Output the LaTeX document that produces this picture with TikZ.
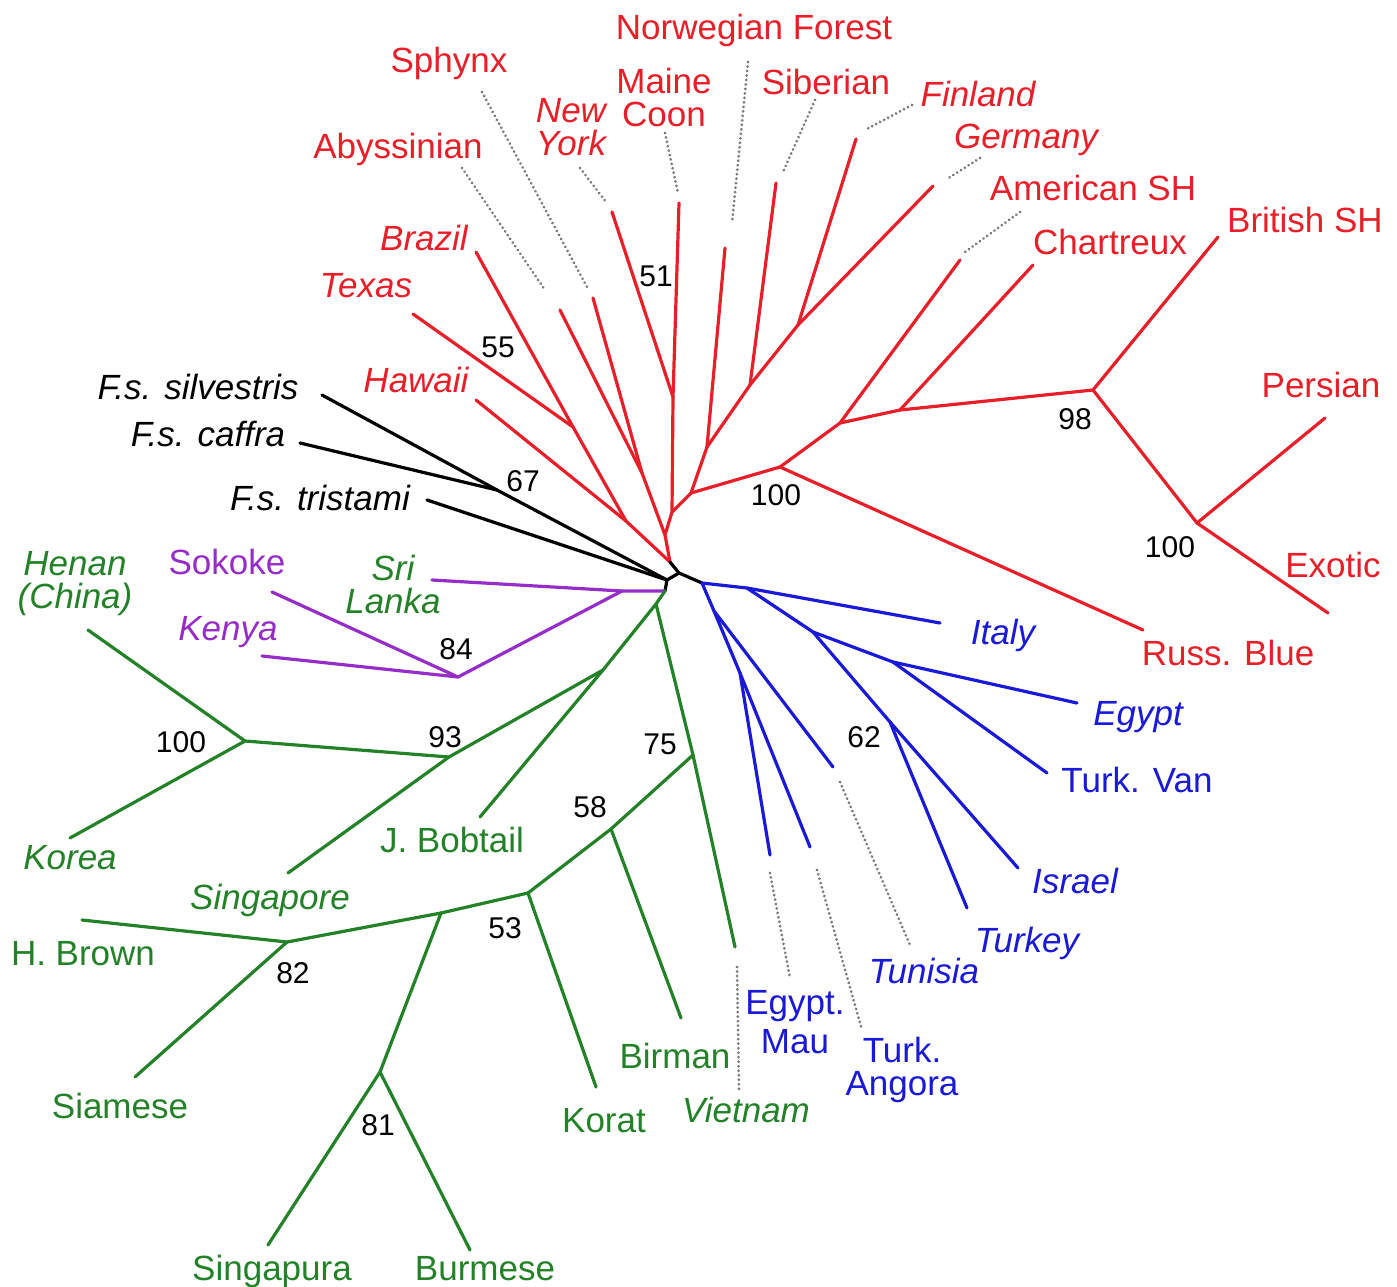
\documentclass[tikz,border=0pt]{standalone}
\usepackage{fontspec}
\setmainfont{Liberation Sans}
\definecolor{tred}{RGB}{232,30,40}
\definecolor{tblue}{RGB}{25,25,215}
\definecolor{tgreen}{RGB}{35,130,40}
\definecolor{tpurple}{RGB}{150,45,200}
\definecolor{tgray}{RGB}{120,120,120}
\newcommand\lblfont{\fontsize{35}{33}\selectfont}
\newcommand\bsfont{\fontsize{30}{30}\selectfont}
\tikzset{
  br/.style={line width=3.2pt, line cap=round, line join=round},
  dotline/.style={tgray, line width=3pt, line cap=round, dash pattern=on 0.01pt off 4.5pt},
  lab/.style={font=\lblfont, inner sep=0pt, anchor=base},
  ilab/.style={font=\lblfont\itshape, inner sep=0pt, anchor=base},
  mlab/.style={font=\lblfont, inner sep=0pt, anchor=center, align=center},
  milab/.style={font=\lblfont\itshape, inner sep=0pt, anchor=center, align=center},
  bs/.style={font=\bsfont, inner sep=0pt, anchor=base, text=black}
}
\begin{document}
\begin{tikzpicture}[x=1pt,y=-1pt]
\useasboundingbox (0,0) rectangle (1397,1287);
\fill[white] (0,0) rectangle (1397,1287);
% ---------- coordinates ----------
% centre
\coordinate (rootR) at (670,562);
\coordinate (J1) at (679,573);
\coordinate (J2) at (667,580);
\coordinate (J3) at (665,591);
\coordinate (blueB) at (702,583);
% black
\coordinate (N67) at (497,490);
\coordinate (SilE) at (322,395);
\coordinate (CafE) at (300,443);
\coordinate (TriE) at (427,500);
% red left
\coordinate (HawJ) at (626,521);
\coordinate (HawE) at (476,400);
\coordinate (N55) at (573,427);
\coordinate (TexE) at (413,314);
\coordinate (BraE) at (476,252);
\coordinate (AbJ) at (642,473);
\coordinate (AbE) at (560,310);
\coordinate (SphE) at (593,298);
\coordinate (MidJ) at (665,535);
\coordinate (NYJ) at (672,512);
\coordinate (N51) at (673,397);
\coordinate (NYE) at (612,212);
\coordinate (MCE) at (679,203);
% red right
\coordinate (RJ) at (691,493);
\coordinate (NorJ) at (707,447);
\coordinate (NorE) at (725,248);
\coordinate (SibJ) at (750,385);
\coordinate (SibE) at (776,183);
\coordinate (FinJ) at (798,325);
\coordinate (FinE) at (856,139);
\coordinate (GerE) at (933,186);
\coordinate (N100a) at (780,467);
\coordinate (RusE) at (1143,630);
\coordinate (AmJ) at (840,423);
\coordinate (AmE) at (960,260);
\coordinate (ChJ) at (900,410);
\coordinate (ChE) at (1033,265);
\coordinate (N98) at (1093,390);
\coordinate (BriE) at (1218,237);
\coordinate (N100b) at (1197,523);
\coordinate (PerE) at (1325,418);
\coordinate (ExoE) at (1328,613);
% blue
\coordinate (BI) at (747,588);
\coordinate (ItE) at (940,623);
\coordinate (BE) at (813,632);
\coordinate (BEg) at (893,662);
\coordinate (EgE) at (1077,703);
\coordinate (TVE) at (1047,773);
\coordinate (N62) at (890,722);
\coordinate (IsE) at (1018,868);
\coordinate (TkE) at (967,908);
\coordinate (BT) at (714,611);
\coordinate (TunE) at (833,767);
\coordinate (BM) at (740,673);
\coordinate (EME) at (770,855);
\coordinate (TAE) at (810,847);
% purple
\coordinate (PSL) at (622,591);
\coordinate (SLE) at (432,580);
\coordinate (N84) at (458,677);
\coordinate (SokE) at (272,592);
\coordinate (KenE) at (262,656);
% green
\coordinate (G0) at (656,604);
\coordinate (N75) at (693,755);
\coordinate (VieE) at (735,947);
\coordinate (N58) at (611,829);
\coordinate (BirE) at (681,1018);
\coordinate (N53) at (528,893);
\coordinate (KoratE) at (596,1087);
\coordinate (NX) at (441,913);
\coordinate (N81) at (380,1072);
\coordinate (SpuE) at (268,1245);
\coordinate (BurE) at (470,1250);
\coordinate (N82) at (287,942);
\coordinate (HBE) at (82,920);
\coordinate (SiaE) at (135,1077);
\coordinate (NJB) at (603,670);
\coordinate (JBE) at (480,817);
\coordinate (N93) at (449,757);
\coordinate (SgpE) at (288,873);
\coordinate (N100c) at (245,741);
\coordinate (HenE) at (88,630);
\coordinate (KorE) at (70,838);
% dotted ends
\coordinate (dAb1) at (462,168); \coordinate (dAb2) at (545,290);
\coordinate (dSp1) at (482,92);  \coordinate (dSp2) at (587,287);
\coordinate (dNY1) at (580,168); \coordinate (dNY2) at (606,202);
\coordinate (dMC1) at (665,133); \coordinate (dMC2) at (678,193);
\coordinate (dNo1) at (748,62);  \coordinate (dNo2) at (732,223);
\coordinate (dSi1) at (815,100); \coordinate (dSi2) at (783,172);
\coordinate (dFi1) at (912,105); \coordinate (dFi2) at (865,130);
\coordinate (dGe1) at (980,158); \coordinate (dGe2) at (947,179);
\coordinate (dAm1) at (1020,212); \coordinate (dAm2) at (965,252);
\coordinate (dTu1) at (840,782); \coordinate (dTu2) at (910,945);
\coordinate (dTA1) at (817,870); \coordinate (dTA2) at (862,1030);
\coordinate (dEM1) at (770,873); \coordinate (dEM2) at (790,978);
\coordinate (dVi1) at (737,967); \coordinate (dVi2) at (739,1090);
% ---------- branches ----------
\draw[br,tred] (HawE) -- (HawJ) -- (rootR);
\draw[br,tred] (TexE) -- (N55) -- (HawJ);
\draw[br,tred] (BraE) -- (N55);
\draw[br,tred] (AbE) -- (AbJ) -- (MidJ) -- (rootR);
\draw[br,tred] (SphE) -- (AbJ);
\draw[br,tred] (NYE) -- (N51) -- (NYJ) -- (MidJ);
\draw[br,tred] (MCE) -- (N51);
\draw[br,tred] (NYJ) -- (RJ) -- (NorJ) -- (SibJ) -- (FinJ) -- (GerE);
\draw[br,tred] (NorJ) -- (NorE);
\draw[br,tred] (SibJ) -- (SibE);
\draw[br,tred] (FinJ) -- (FinE);
\draw[br,tred] (RJ) -- (N100a) -- (RusE);
\draw[br,tred] (N100a) -- (AmJ) -- (AmE);
\draw[br,tred] (AmJ) -- (ChJ) -- (ChE);
\draw[br,tred] (ChJ) -- (N98) -- (BriE);
\draw[br,tred] (N98) -- (N100b) -- (PerE);
\draw[br,tred] (N100b) -- (ExoE);
% black
\draw[br,black] (rootR) -- (J1) -- (blueB);
\draw[br,black] (J1) -- (J2) -- (J3);
\draw[br,black] (SilE) -- (N67) -- (J2);
\draw[br,black] (CafE) -- (N67);
\draw[br,black] (TriE) -- (J2);
% purple
\draw[br,tpurple] (J3) -- (PSL) -- (SLE);
\draw[br,tpurple] (PSL) -- (N84) -- (SokE);
\draw[br,tpurple] (N84) -- (KenE);
% green
\draw[br,tgreen] (J3) -- (G0) -- (N75) -- (VieE);
\draw[br,tgreen] (G0) -- (NJB) -- (JBE);
\draw[br,tgreen] (NJB) -- (N93) -- (SgpE);
\draw[br,tgreen] (N93) -- (N100c) -- (HenE);
\draw[br,tgreen] (N100c) -- (KorE);
\draw[br,tgreen] (N75) -- (N58) -- (BirE);
\draw[br,tgreen] (N58) -- (N53) -- (KoratE);
\draw[br,tgreen] (N53) -- (NX) -- (N81) -- (SpuE);
\draw[br,tgreen] (N81) -- (BurE);
\draw[br,tgreen] (NX) -- (N82) -- (HBE);
\draw[br,tgreen] (N82) -- (SiaE);
% blue
\draw[br,tblue] (blueB) -- (BI) -- (ItE);
\draw[br,tblue] (BI) -- (BE) -- (BEg) -- (EgE);
\draw[br,tblue] (BEg) -- (TVE);
\draw[br,tblue] (BE) -- (N62) -- (IsE);
\draw[br,tblue] (N62) -- (TkE);
\draw[br,tblue] (blueB) -- (BT) -- (TunE);
\draw[br,tblue] (BT) -- (BM) -- (EME);
\draw[br,tblue] (BM) -- (TAE);
% dotted leaders
\draw[dotline] (dAb1) -- (dAb2);
\draw[dotline] (dSp1) -- (dSp2);
\draw[dotline] (dNY1) -- (dNY2);
\draw[dotline] (dMC1) -- (dMC2);
\draw[dotline] (dNo1) -- (dNo2);
\draw[dotline] (dSi1) -- (dSi2);
\draw[dotline] (dFi1) -- (dFi2);
\draw[dotline] (dGe1) -- (dGe2);
\draw[dotline] (dAm1) -- (dAm2);
\draw[dotline] (dTu1) -- (dTu2);
\draw[dotline] (dTA1) -- (dTA2);
\draw[dotline] (dEM1) -- (dEM2);
\draw[dotline] (dVi1) -- (dVi2);
% ---------- labels ----------
% red
\node[lab,text=tred] (lNorw) at (754,40) {Norwegian Forest};
\node[lab,text=tred] (lSph) at (449,73) {Sphynx};
\node[mlab,text=tred] (lMC) at (664,97) {Maine\\Coon};
\node[milab,text=tred] (lNY) at (571,127) {New\\York};
\node[lab,text=tred] (lSib) at (826,95) {Siberian};
\node[ilab,text=tred] (lFin) at (978,107) {Finland};
\node[ilab,text=tred] (lGer) at (1026,149) {Germany};
\node[lab,text=tred] (lAm) at (1093,200) {American SH};
\node[lab,text=tred] (lCh) at (1110,254) {Chartreux};
\node[lab,text=tred] (lBri) at (1305,232) {British SH};
\node[lab,text=tred] (lPer) at (1321,397) {Persian};
\node[lab,text=tred] (lExo) at (1333,577) {Exotic};
\node[lab,text=tred] (lRus) at (1228,665) {Russ. Blue};
\node[lab,text=tred] (lAby) at (398,158) {Abyssinian};
\node[ilab,text=tred] (lBra) at (424,250) {Brazil};
\node[ilab,text=tred] (lTex) at (366,297) {Texas};
\node[ilab,text=tred] (lHaw) at (416,392) {Hawaii};
% black
\node[ilab,text=black] (lSil) at (198,399) {F.s. silvestris};
\node[ilab,text=black] (lCaf) at (208,446) {F.s. caffra};
\node[ilab,text=black] (lTri) at (320,510) {F.s. tristami};
% purple / green (upper left)
\node[lab,text=tpurple] (lSok) at (227,574) {Sokoke};
\node[ilab,text=tpurple] (lKen) at (228,640) {Kenya};
\node[milab,text=tgreen] (lSL) at (393,584) {Sri\\Lanka};
\node[milab,text=tgreen] (lHen) at (75,584) {Henan\\(China)};
% blue
\node[ilab,text=tblue] (lIt) at (1003,644) {Italy};
\node[ilab,text=tblue] (lEg) at (1138,725) {Egypt};
\node[lab,text=tblue] (lTV) at (1137,792) {Turk. Van};
\node[ilab,text=tblue] (lIs) at (1075,893) {Israel};
\node[ilab,text=tblue] (lTk) at (1027,952) {Turkey};
\node[ilab,text=tblue] (lTun) at (924,983) {Tunisia};
\node[mlab,text=tblue] (lEM) at (795,1022) {Egypt.\\[6pt]Mau};
\node[mlab,text=tblue] (lTA) at (902,1070) {Turk.\\Angora};
% green
\node[ilab,text=tgreen] (lVie) at (746,1122) {Vietnam};
\node[lab,text=tgreen] (lBir) at (675,1068) {Birman};
\node[lab,text=tgreen] (lKorat) at (604,1132) {Korat};
\node[lab,text=tgreen] (lBur) at (485,1280) {Burmese};
\node[lab,text=tgreen] (lSpu) at (272,1280) {Singapura};
\node[lab,text=tgreen] (lSia) at (120,1118) {Siamese};
\node[lab,text=tgreen] (lHB) at (83,965) {H. Brown};
\node[ilab,text=tgreen] (lSgp) at (270,909) {Singapore};
\node[ilab,text=tgreen] (lKor) at (70,869) {Korea};
\node[lab,text=tgreen] (lJB) at (452,852) {J. Bobtail};
% bootstrap values
\node[bs] (b51) at (656,286) {51};
\node[bs] (b55) at (498,357) {55};
\node[bs] (b67) at (523,491) {67};
\node[bs] (b100a) at (776,505) {100};
\node[bs] (b98) at (1075,429) {98};
\node[bs] (b100b) at (1170,557) {100};
\node[bs] (b84) at (456,659) {84};
\node[bs] (b100c) at (181,752) {100};
\node[bs] (b93) at (445,747) {93};
\node[bs] (b75) at (660,754) {75};
\node[bs] (b58) at (590,817) {58};
\node[bs] (b53) at (505,938) {53};
\node[bs] (b82) at (293,983) {82};
\node[bs] (b81) at (378,1135) {81};
\node[bs] (b62) at (864,747) {62};
\end{tikzpicture}
\end{document}
